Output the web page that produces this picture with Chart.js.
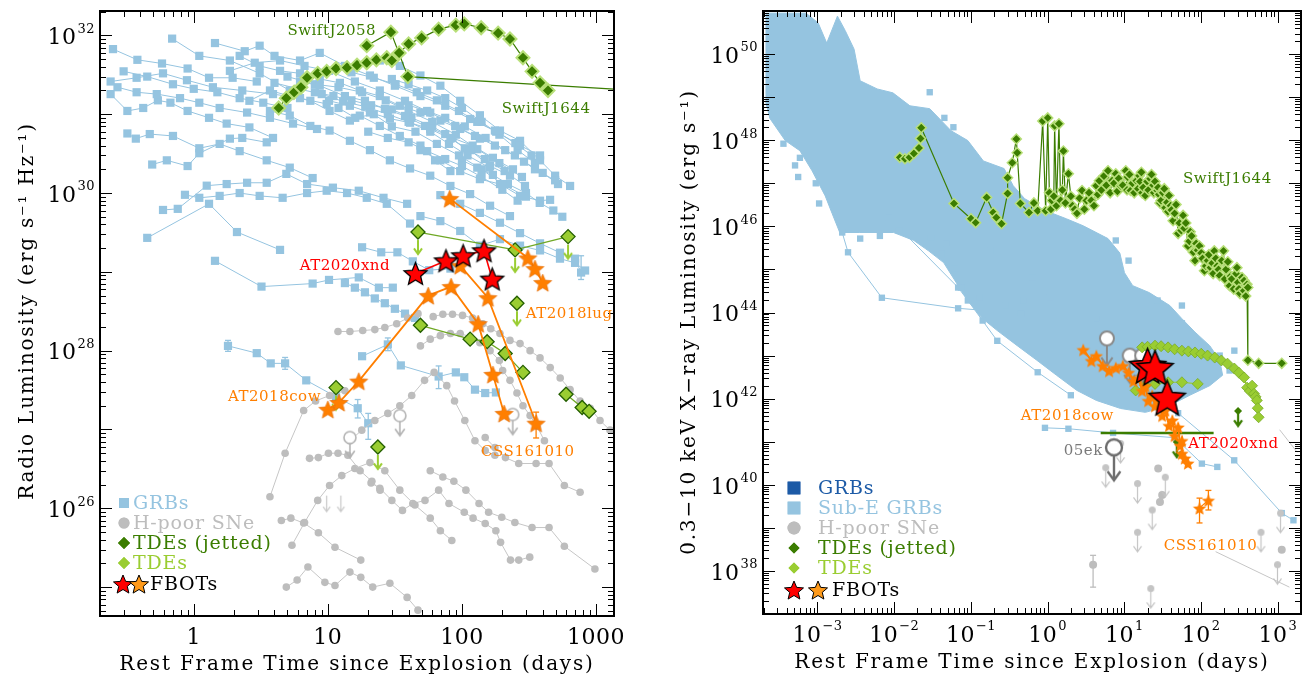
<!DOCTYPE html>
<html>
<head>
<meta charset="utf-8">
<title>FBOT radio and X-ray luminosity</title>
<script src="https://cdn.jsdelivr.net/npm/chart.js@4.4.1/dist/chart.umd.min.js"></script>
<style>
  body { margin: 0; background: #fff; }
  #wrap { position: relative; width: 1312px; height: 681px; }
  #wrap canvas { position: absolute; top: 0; }
</style>
</head>
<body>
<div id="wrap">
  <canvas id="radio" width="656" height="681" style="left:0"></canvas>
  <canvas id="xray" width="656" height="681" style="left:656px"></canvas>
</div>
<script>
// ---------- radio panel: [days, erg/s/Hz] ----------
const swiftJ1644Radio = [[4.3,1.2e31],[4.9,1.6e31],[5.6,1.9e31],[6.3,2.2e31],[7.0,2.9e31],[8.4,3.3e31],[9.8,3.5e31],[11.5,3.8e31],[13.9,3.9e31],[16.5,4.2e31],[19.5,4.5e31],[23,4.9e31],[27.5,5.2e31],[30,4.8e31],[34,6e31],[40,7.8e31],[50,9.3e31],[67,1.2e32],[90,1.35e32],[104,1.4e32],[139,1.25e32],[186,1.07e32],[228,9e31],[285,5.2e31],[333,3.5e31],[382,2.5e31],[438,2e31]]
const swiftJ2058Radio = [[19.5,7.4e31],[29.5,1.1e32],[39.5,3e31],[2000,2e31]]
const at2020xndRadio = [[45,9.5e28],[76,1.38e29],[102,1.6e29],[146,1.85e29],[168,8.1e28]]
const at2018cowRadio = [[10,1.8e27],[12.1,2.2e27],[17,4.1e27],[56,5e28],[83,6.5e28],[132,2.2e28],[170,5e27],[206,1.6e27]]
const css161010Radio = [[97,1.2e29],[156,4.7e28],[357,1.2e27]]
const at2018lugRadio = [[81,8.5e29],[310,1.5e29],[350,1.1e29],[400,7.3e28]]
const tdeRadioLimitLine = [[47,3.2e29],[249,1.9e29],[618,2.8e29]]
const tdeRadioB = [[49,2.1e28],[115,1.4e28],[154,1.3e28],[210,9.2e27],[285,5.3e27]]
const tdeRadioC = [[597,2.8e27],[787,1.9e27],[887,1.7e27]]
const tdeRadioLimits = [[257,4e28],[11.5,3.4e27],[23.6,6e26]]
const snRadioOpenLimits = [[34.4,1.5e27],[14.6,7.9e26],[239,1.55e27]]
const snRadioArrows = [[9.8,1.45e26],[12.5,1.45e26]]
const radioErrors = [[357,7.8e26,1.66e27,'#ff7f00'],[1.8,9.8e27,1.35e28,'#95c4e0'],[4.8,5.8e27,8.2e27,'#95c4e0'],[16.7,1.4e27,2.4e27,'#95c4e0'],[20,7.5e26,1.6e27,'#95c4e0'],[28,1e28,1.45e28,'#95c4e0'],[67,3.3e27,6.4e27,'#95c4e0'],[773,8e28,1.6e29,'#95c4e0']]

const grbRadioCurves = [
  [[0.25,6.7e31],[0.38,4.9e31],[0.58,4.4e31],[0.9,3.8e31],[1.3,2.9e31],[1.95,2.9e31],[2.95,2.6e31]],
  [[0.24,2.6e31],[0.375,2.9e31],[0.59,3.3e31],[0.89,2.7e31],[1.39,2.2e31],[2.3,2e31],[3.9,1.8e31],[6.2,1.6e31],[9.8,1.35e31]],
  [[0.27,2.2e31],[0.375,1.9e31],[0.53,1.8e31],[0.79,1.6e31],[1.1,1.4e31],[1.56,1.2e31],[2.5,1.05e31],[3.7,9e30],[5.5,7.6e30],[8.3,6.5e30]],
  [[0.24,1.8e31],[0.32,1.1e31],[0.42,1.2e31],[0.54,1.5e31],[0.67,1.4e31],[0.9,1.1e31],[1.3,9e30],[1.76,7.6e30],[2.6,6.8e30],[3.9,5e30]],
  [[0.32,5.7e30],[0.37,4.9e30],[0.47,5.6e30],[0.7,5.3e30],[1.1,3.7e30],[1.56,4.2e30],[2.2,3.4e30],[3.5,2.6e30],[5.2,2.1e30],[7.7,1.55e30]],
  [[0.49,2.3e30],[0.63,2.6e30],[0.9,2.2e30],[1.1,3.2e30],[1.86,4.9e30],[2.3,5e30],[3.5,4.4e30]],
  [[0.45,2.7e29],[1.3,7.3e29],[2.1,3.2e29],[4.4,1.9e29]],
  [[0.59,6.1e29],[0.76,6.3e29],[1.25,1.24e30],[1.76,1.3e30],[2.5,1.35e30],[3.5,1.35e30],[4.9,1.75e30],[7,1.3e30],[10.9,1.17e30],[17,1.07e30],[26,8.7e29],[39,7.3e29]],
  [[0.86,9.5e29],[1.1,8.7e29],[1.56,9.2e29],[2.2,1e30],[3.1,9.2e29],[4.6,8.7e29],[7,1e30],[9.8,1.07e30],[13.9,1e30],[19.5,8.7e29],[27.5,7.3e29],[41,4.1e29]],
  [[1.44,1.38e29],[3.2,6.5e28],[7.7,7.1e28],[10.2,7.9e28],[17,8.5e28],[24,6.3e28],[30.5,6.3e28]],
  [[13.4,7.2e28],[15.9,6.3e28],[18.9,5.5e28],[22.4,4.6e28],[26.6,4e28],[31.6,3.4e28],[37.6,2.95e28],[44.6,2.6e28]],
  [[1.8,1.15e28],[2.95,9.3e27],[3.75,6.9e27],[4.8,6.9e27],[6.9,4.2e27],[11.5,2.6e27],[16.7,1.86e27],[20,1.2e27]],
  [[18,8.5e27],[28,1.2e28],[35,6.5e27],[67,4.7e27],[90,5.3e27],[104,4.6e27],[125,3.2e27],[149,2.9e27],[179,2.95e27]],
  [[69,9.4e29],[97,7.3e29],[136,5.6e29],[192,4.2e29],[271,3.1e29],[382,2.3e29],[538,1.75e29],[697,1.47e29],[773,9.8e28]],
  [[49,3.5e30],[69,2.6e30],[97,1.9e30],[136,1.5e30],[192,1.3e30],[271,9.2e29],[382,8e29],[454,8.2e29]],
  [[10.2,1.48e31],[14.6,1.28e31],[20.6,1.05e31],[29,8.8e30],[41,7.8e30],[58,6.5e30],[82,4.9e30],[115,3.5e30],[162,2.2e30],[228,1.66e30]],
  [[6.2,2.6e31],[8.7,2.3e31],[13.4,1.7e31],[18.9,1.48e31],[26.6,1.17e31],[37.6,9.5e30],[53,7.1e30],[75,5.6e30],[105,3.7e30],[148,2.7e30],[208,1.9e30],[295,1.23e30]],
  [[2.2,5.5e31],[3.1,4.1e31],[4.4,3.55e31],[6.2,3.3e31],[8.7,2.8e31],[12.3,2.5e31],[17.3,2e31],[24.4,1.7e31],[34.4,1.28e31],[49,1.05e31],[69,8.3e30],[97,6.5e30],[136,4.9e30]],
  [[1.44,8e31],[2.4,6.3e31],[3.1,7.4e31],[4,5.5e31],[6.2,4.8e31],[8.7,6e31],[13.4,4.1e31],[20.6,3.1e31],[31.6,2.3e31],[49,1.7e31],[75,1.28e31],[115,8.7e30],[176,6.2e30],[271,4e30],[382,3e30]],
  [[1.86,3.55e31],[2.85,4.5e31],[4.4,4.8e31],[6.7,4.1e31],[10.2,3.55e31],[15.9,2.6e31],[24.4,2e31],[37.6,1.48e31],[58,1.05e31],[89,7.1e30],[125,5.3e30],[176,4e30],[248,3e30],[350,2e30],[495,1.45e30]],
  [[3.7,1.1e31],[5.2,9.6e30],[7.4,7.1e30],[10.3,6.2e30],[14.6,4.6e30],[20.6,3.5e30],[29,2.6e30],[41,2.05e30],[58,1.66e30],[82,1.23e30],[115,9.7e29],[162,6.9e29],[228,5.1e29]],
  [[24.4,4.8e31],[34.4,4.1e31],[49,3.1e31],[69,2.3e31],[97,1.48e31],[136,9.7e30],[192,6.2e30],[271,4.6e30],[382,2.6e30],[495,1.66e30],[640,1.23e30]],
  [[2.6,1.48e31],[3.7,2e31],[5.2,1.7e31],[7.4,1.48e31],[10.3,1.1e31],[14.6,8.3e30],[17.3,9.6e30],[24.4,7.1e30],[34.4,5.3e30],[49,4e30],[63,2.6e30],[82,1.9e30]],
  [[0.69,9.1e31],[1.1,5.5e31],[1.86,4.8e31],[3.1,3.3e31],[5.2,2e31]],
  [[49,5.1e29],[69,4.4e29],[97,3.3e29],[136,2.15e29],[192,2.6e29],[271,2.15e29],[382,1.87e29],[538,1.47e29],[697,1.3e29],[828,1.04e29]],
  [[18,2.05e29],[25,1.77e29],[33,1.77e29],[43,1.36e29],[57,1.05e29],[82,1.1e29]],
  [[5,3e31],[8,2.4e31],[12,2.2e31],[18,1.9e31],[27,1.5e31],[40,1.1e31],[60,8e30],[90,5.5e30],[130,3.6e30],[190,2.4e30],[280,1.6e30]],
  [[12,1.2e31],[16,9e30],[22,1e31],[30,7e30],[45,6e30],[65,4.2e30],[95,3e30],[140,2e30],[200,1.3e30],[300,9e29]],
  [[20,6e30],[28,5e30],[40,4.4e30],[55,3.4e30],[75,2.7e30],[100,2.2e30],[140,1.6e30],[200,1.1e30],[260,8e29]],
  [[8,1.9e31],[11,1.7e31],[15,1.5e31],[21,1.3e31],[30,1.15e31],[42,9e30],[60,7e30],[85,5e30],[120,4e30],[170,2.8e30],[240,2e30]],
  [[30,2.8e31],[40,2.4e31],[55,2e31],[75,1.6e31],[100,1.2e31],[140,8e30],[190,5.5e30],[260,3.5e30],[350,2.4e30]],
  [[4,2.5e31],[6,2.1e31],[9,1.8e31],[13,1.45e31],[19,1.25e31],[28,1e31],[40,8e30],[58,6e30],[80,4.2e30],[110,3e30],[160,2.1e30]],
  [[15,3.4e31],[22,2.9e31],[32,2.4e31],[46,1.9e31],[65,1.5e31],[95,1.1e31],[130,8e30],[180,6e30],[250,4.3e30],[330,3e30]],
  [[40,1.3e31],[55,1.1e31],[75,9e30],[105,7e30],[150,5e30],[210,3.5e30],[290,2.5e30],[400,1.8e30],[520,1.3e30]],
  [[0.3,3.5e31],[0.45,3e31],[0.7,2.4e31],[1.0,2.1e31],[1.5,1.9e31],[2.2,1.6e31],[3.3,1.4e31],[5,1.2e31]],
  [[100,2.6e30],[130,2.1e30],[170,1.7e30],[220,1.3e30],[300,1e30],[380,7.5e29],[480,6e29],[560,5e29]]
]

const snRadioCurves = [
  [[3.7,1.4e26],[4.8,5e26],[6.6,1.74e27],[8.1,2.3e27],[10.3,2.7e27],[13.4,3.1e27]],
  [[7.3,4.3e26],[8.5,4.4e26],[10.1,5e26],[11.9,5e26],[14.1,4.7e26],[17.4,3e26],[21.3,2.2e26],[24.5,1.7e26]],
  [[4.5,7e25],[5.3,7.5e25],[6.6,6.5e25],[8.5,4.9e25],[11.3,3.2e25],[17.6,2.2e25]],
  [[4.9,1e25],[5.9,1.23e25],[7.1,1.8e25],[9.5,1.15e25],[11.3,1.05e25],[14.6,1.55e25],[17.6,1.33e25],[21.6,1e25],[29,1.12e25],[39,7.4e24],[47,5.1e24]],
  [[5.4,3.4e25],[6.7,6.6e25],[8.4,1.26e26],[10.3,1.95e26],[12.7,2.6e26],[15.9,3.2e26],[20.6,3.8e26],[26.6,3e26],[34.4,1.7e26],[44.6,1.1e26],[58,7.5e25],[69,5.2e25],[84,3.9e25]],
  [[14.6,7.2e26],[17.9,9.8e26],[22.4,1.3e27],[28,1.6e27],[34.4,2e27],[42.2,2.7e27],[52.6,4.2e27],[62,5.3e27],[77,3.6e27],[88,2.3e27],[105,1.3e27],[125,7.2e26],[149,5.4e26],[176,4.7e26]],
  [[21,2.1e26],[24.4,1.8e26],[30,1.26e26],[36,9.4e25],[43,1.15e26],[53,1.26e26],[67,1.7e26],[80,1.15e26],[104,8.9e25],[121,7.5e25],[149,6.4e25],[179,5.2e25],[194,3.7e25],[230,2.2e25],[265,2.2e25],[320,2.4e25]],
  [[58,3e26],[72,2.5e26],[87,2.2e26],[107,1.7e26],[134,1.15e26],[158,8.9e25],[198,7.7e25],[248,6.6e25],[333,5.7e25],[446,5.7e25],[580,3.3e25],[980,1.7e25]],
  [[149,7.9e26],[176,5.9e26],[211,4.4e26],[265,3.7e26],[357,3.7e26],[446,3.7e26],[580,1.95e26],[760,1.6e26]],
  [[61,2.7e28],[72,2.9e28],[85,2.9e28],[101,2.8e28],[120,2.6e28],[143,2.2e28],[164,1.9e28],[192,1.65e28],[228,1.35e28],[271,1.23e28],[322,1e28],[382,8.1e27],[455,6.1e27],[540,4.5e27],[640,3.2e27],[760,2.3e27],[905,1.86e27],[1070,1.3e27],[1270,9.8e26]],
  [[49,1.15e28],[58,1.4e28],[69,1.55e28],[82,1.65e28],[97,1.65e28],[115,1.5e28],[136,1.26e28],[162,1e28],[190,7.5e27],[201,5.6e27],[228,4.2e27],[257,2.9e27],[285,2e27],[322,1.5e27],[362,1.1e27],[412,7.2e26]],
  [[11.9,1.75e28],[14.6,1.75e28],[18.2,1.8e28],[22.4,1.85e28],[26.6,1.97e28],[32.6,2.2e28],[39.4,2.6e28],[47,2.95e28]]
]

// ---------- X-ray panel: [days, erg/s] ----------
const subEGrbCloud = [[2.1e-4,8.9e50],[7.1e-4,8.9e50],[1.02e-3,5.3e50],[1.32e-3,1.8e50],[1.82e-3,7.6e50],[2.3e-3,3.5e50],[3.0e-3,1.3e50],[3.6e-3,2.4e49],[6e-3,1.55e49],[9.6e-3,1.26e49],[0.016,6.3e48],[0.029,5.4e48],[0.055,1.66e48],[0.091,9.8e47],[0.145,3.3e47],[0.27,2.2e47],[0.355,8.8e46],[0.5,4.4e46],[0.94,2.3e46],[1.75,1.5e46],[2.9,1.03e46],[6.1,5.2e45],[8.7,2.4e45],[10,8.4e44],[12.8,4.2e44],[21,2.9e44],[39,1.45e44],[56,7.2e43],[83,3.5e43],[129,1.7e43],[174,7.8e42],[190,3.5e42],[129,2e42],[71,1.2e42],[39,6.9e41],[18.7,4.8e41],[8.9,5.9e41],[4.3,9.1e41],[2.4,1.55e42],[1.3,3.5e42],[0.72,7.8e42],[0.4,1.7e43],[0.22,3.8e43],[0.142,7.2e43],[0.091,1.9e44],[0.068,4.2e44],[0.044,1.44e45],[0.028,2.7e45],[0.018,4.7e45],[9.8e-3,7.2e45],[3.5e-3,7.2e45],[1.95e-3,7.2e45],[1.55e-3,2e46],[1.26e-3,5.1e46],[8.5e-4,1.95e47],[5.9e-4,5.7e47],[3.8e-4,9.8e47],[2.4e-4,3.2e48],[2.1e-4,8.1e48]]
const subEGrbScatter = [[0.029,1.3e49],[0.045,3.3e48],[0.059,2e48],[5.9e-4,3.9e47],[5.1e-4,2.6e47],[3.6e-4,8.3e47],[5.6e-4,1.4e47],[9.5e-4,1e47],[1.05e-3,3.4e46],[3.6e-3,5.2e45],[6.5e-3,6e45],[0.0115,7.9e45],[0.03,5.5e45],[0.041,2.3e45],[0.06,1.05e45],[0.18,2.7e45],[0.28,1.45e44],[0.13,2.2e44],[0.48,1.9e44],[0.64,6.5e44],[1.06,2.2e44],[56,1.45e44],[7.7,4.7e45],[11.3,1.6e45],[27,1.9e44],[174,1e43],[234,4.5e42],[270,1.3e43]]
const grbXrayCurves = [
  [[2.1e-3,7.2e45],[2.5e-3,2.5e45],[6.9e-3,2.2e44],[0.068,1.25e44],[0.45,9.6e43],[4.3,7.3e43],[56,5.6e43]],
  [[8.5e-3,1.6e46],[0.068,3.8e44],[0.091,1.9e44],[0.22,2.2e43],[0.74,4.1e42],[2.0,1.2e42]],
  [[0.048,4e45],[0.074,3.8e44],[0.142,6.5e43]],
  [[0.92,2.1e41],[1.86,2e41],[7.1,1.6e41],[45,1.24e41],[102,3.1e40],[162,2.6e40]],
  [[50,4.6e41],[269,3.7e40],[1120,2.2e39],[1590,1.5e39]]
]
const swiftJ1644Xray = [[0.0118,4e47],[0.0138,3.7e47],[0.0158,4e47],[0.018,4.9e47],[0.021,6.6e47],[0.022,1.1e48],[0.0225,1.95e48],[0.06,3.4e46],[0.1,1.5e46],[0.115,1.22e46],[0.16,4.7e46],[0.195,2.1e46],[0.214,1.6e46],[0.25,1.15e46],[0.3,5.8e46],[0.3,1.35e47],[0.345,3e47],[0.39,1.07e48],[0.4,5.1e47],[0.44,3.4e46],[0.57,2.1e46],[0.66,3.5e46],[0.74,2.3e46],[0.86,2.8e48],[0.94,2.3e46],
  [1.0,3.3e48],[1.05,6e46],[1.1,2.5e46],[1.13,4e46],[1.2,5e46],[1.23,2.15e48],[1.3,3e46],[1.4,2.4e48],[1.47,4e46],[1.55,7e46],[1.6,5.6e47],[1.7,3.5e46],[1.86,1.67e47],[2.0,5e46],[2.1,3e46],[2.25,2.5e46],[2.4,2e46],[2.6,4.5e46],[2.8,6.8e46],[3.0,2.5e46],[3.2,4e46],[3.45,6e46],[3.7,4e46],[4.0,3e46],[4.3,8.8e46],[4.5,5.5e46],[4.7,1.15e47],[5.0,7e46],[5.4,1.48e47],[5.8,9e46],[6.1,1.95e47],[6.5,6e46],[6.9,1.15e47],[7.3,1e47],[7.7,1.67e47],[8.1,6.5e46],[8.4,1.3e47],[8.9,8.8e46],[9.5,9e46],
  [10.4,1.95e47],[10.8,7e46],[11,1.4e47],[11.6,1.6e47],[12,6.8e46],[12.7,1e47],[13.4,6e46],[14.3,1.15e47],[15,7.5e46],[15.6,1.5e47],[16,1.1e47],[16.6,1.8e47],[17,6e46],[17.6,8e46],[18.7,5.2e46],[19.8,1.1e47],[20.5,7e46],[21.7,1.27e47],[22.5,1.6e47],[23.7,9e46],[24.2,6e46],[25,1.1e47],[26.8,6.8e46],[27.5,8e46],[28.2,5.5e46],[29,3.5e46],[30,4e46],[31.6,6e46],[33,7.5e46],[34,2.7e46],[35.8,3.6e46],[36.8,2.2e46],[38,5.2e46],[40,3e46],[41,2.4e46],[43,1.35e46],[45,2e46],[47,3.2e46],[50,6.8e45],[52,1.2e46],[55,8e45],[58,1.8e46],[60,9e45],[63,1.2e46],[67,3.5e45],[70,4.5e45],[72,7.5e45],[75,6e45],[79,2.5e45],[83,1.6e45],[86,4e45],[90,2.8e45],[95,3.5e45],
  [100,2.4e45],[104,1.8e45],[110,9.3e44],[115,1.2e45],[121,1.6e45],[126,2.2e45],[132,1.1e45],[139,1.4e45],[143,8e44],[148,2.7e45],[155,1.8e45],[162,1.2e45],[168,1e45],[174,7.2e44],[185,1.6e45],[195,2.7e45],[203,6e44],[211,1e45],[222,1.5e45],[234,4.2e44],[242,7e44],[250,6e44],[265,3.5e44],[284,8e44],[292,1.1e45],[300,5e44],[310,3.5e44],[320,2.75e44],[340,6.5e44],[360,3.2e44],[362,5.5e44],[380,2.4e44],[395,4.5e44],[405,3.8e44],[405,7.8e42],[560,6.6e42],[1120,6.6e42]]
const tdeXrayA = [[17,1.55e43],[20,1.6e43],[25,1.7e43],[30,1.65e43],[37,1.55e43],[45,1.4e43],[56,1.3e43],[68,1.25e43],[83,1.18e43],[100,1.1e43],[121,1e43],[150,9e42],[183,7.7e42],[220,6.5e42],[270,5e42],[310,4e42],[362,3.1e42],[396,1.8e42],[430,1.5e42],[460,2e42],[488,1.3e42],[510,1.1e42],[530,9.1e41],[545,6e41],[560,3.7e41]]
const tdeXrayB = [[14,1.55e42],[18.7,2e42],[25,2.2e42],[37,2.4e42],[56,2.4e42],[90,2.2e42]]
const jettedXrayFlat = [[4.9,1.6e41],[145,1.6e41]]
const jettedXrayLimits = [[48,9.8e40],[302,5.2e41]]
const at2018cowXray = [[2.9,1.38e43],[3.7,7.7e42],[4.3,1e43],[5.2,5.9e42],[6.3,4.5e42],[7.7,5.3e42],[9.5,5.9e42],[11.3,4.1e42],[13.1,2.6e42],[15.2,3e42],[17,1.55e42],[18.7,2e42],[20.4,9.1e41],[23,1.2e42],[25,6.9e41],[27.5,9.1e41],[31,4.1e41],[34,5.4e41],[38,2.4e41],[42,3.2e41],[45,1.4e41],[50,2.2e41],[53,8.3e40],[56,1.07e41],[56,5.4e40],[61,4.2e40],[67,3.2e40]]
const css161010Xray = [[95,2.9e39],[124,4.4e39]]
const at2020xndXray = [[20,5.6e42],[25,5e42],[36,1.02e42]]
const snXrayOpenLimits = [[5.9,2.5e43],[11.7,1e43],[17,1e43]]
const sn05ekXray = [[7.3,7.4e40]]
const snXrayLimits = [[5.7,2.5e40],[8.9,9.1e40],[14.8,1.07e40],[34,1.5e40],[23,2.6e39],[14.8,7.9e38],[600,7.9e38],[1080,2.2e39],[22,3.9e37],[985,1.4e38]]
const snXrayDots = [[27.5,2.4e40],[31,5.8e39],[29,4e39],[1120,3.1e38],[3.9,1.4e38]]
const snXrayLines = [[[1050,1.9e41],[1780,5.7e40]],[[154,2.8e38],[1410,4.2e37]]]
const xrayErrors = [[95,1.3e39,4.9e39,'#ff7f00'],[124,2.6e39,7.4e39,'#ff7f00'],[3.9,4.2e37,2.3e38,'#bdbdbd']]

// ---------- colours ----------
const BLUE = '#95c4e0', DKBLUE = '#1c5aa6', GREY = '#bdbdbd', DKGREEN = '#3b7d00',
  LTGREEN = '#9acd32', ORANGE = '#ff7f00', RED = '#ff0000', HALO = '#b9e07a'
const SERIF = '"DejaVu Serif", "Liberation Serif", serif'

// ---------- marker images ----------
function canvasOf(w, h) {
  const c = document.createElement('canvas')
  c.width = w; c.height = h
  return c
}
function starImg(r, fill, stroke, lw) {
  const s = Math.ceil(2 * r + 2 * lw + 2), c = canvasOf(s, s), g = c.getContext('2d')
  g.beginPath()
  for (let i = 0; i < 10; i++) {
    const rr = i % 2 ? r * 0.45 : r, a = -Math.PI / 2 + i * Math.PI / 5
    g.lineTo(s / 2 + rr * Math.cos(a), s / 2 + 1 + rr * Math.sin(a))
  }
  g.closePath()
  g.fillStyle = fill
  g.fill()
  if (stroke) { g.lineWidth = lw; g.strokeStyle = stroke; g.stroke() }
  return c
}
function arrowImg(gap, len, color, lw, head) {
  const w = 2 * head + 4, h = 2 * (gap + len) + 4, c = canvasOf(w, h), g = c.getContext('2d')
  const cx = w / 2, cy = h / 2, tip = cy + gap + len
  g.strokeStyle = color; g.lineWidth = lw
  g.beginPath()
  g.moveTo(cx, cy + gap); g.lineTo(cx, tip)
  g.moveTo(cx - head, tip - head * 1.4); g.lineTo(cx, tip); g.lineTo(cx + head, tip - head * 1.4)
  g.stroke()
  return c
}
function openLimitImg(r, len, color, lw) {
  const head = r * 0.8, w = 2 * r + 6, h = 2 * (r + len) + 6, c = canvasOf(w, h), g = c.getContext('2d')
  const cx = w / 2, cy = h / 2, tip = cy + r + len
  g.strokeStyle = color; g.lineWidth = lw
  g.beginPath()
  g.moveTo(cx, cy + r); g.lineTo(cx, tip)
  g.moveTo(cx - head, tip - head * 1.4); g.lineTo(cx, tip); g.lineTo(cx + head, tip - head * 1.4)
  g.stroke()
  g.beginPath(); g.arc(cx, cy, r, 0, Math.PI * 2)
  g.fillStyle = '#fff'; g.fill(); g.stroke()
  return c
}
function dotLimitImg(r, len, color, lw) {
  const head = 4, w = 2 * r + 8, h = 2 * (r + len) + 6, c = canvasOf(w, h), g = c.getContext('2d')
  const cx = w / 2, cy = h / 2, tip = cy + r + len
  g.strokeStyle = color; g.lineWidth = lw
  g.beginPath()
  g.moveTo(cx, cy); g.lineTo(cx, tip)
  g.moveTo(cx - head, tip - head * 1.4); g.lineTo(cx, tip); g.lineTo(cx + head, tip - head * 1.4)
  g.stroke()
  g.beginPath(); g.arc(cx, cy, r, 0, Math.PI * 2)
  g.fillStyle = color; g.fill()
  return c
}

const redStarL = starImg(12, RED, '#000', 1.3)
const orangeStarL = starImg(9.5, ORANGE, '#e06a00', 0.6)
const redStarR = starImg(19, RED, '#000', 1.5)
const orangeStarR = starImg(7, ORANGE, null, 0)
const legRed = starImg(10, RED, '#000', 1)
const legOrange = starImg(10, '#ff9a1a', '#000', 1)
const tdeArrow = arrowImg(8, 14, LTGREEN, 2, 4)
const greyOpenL = openLimitImg(6, 14, '#b3b3b3', 1.6)
const greyArrowL = arrowImg(0, 16, '#c8c8c8', 1.2, 3.5)
const greyOpenR = openLimitImg(7, 20, '#8a8a8a', 2)
const ek05 = openLimitImg(8, 25, '#6e6e6e', 2.4)
const greyDotLimit = dotLimitImg(3.5, 16, '#c4c4c4', 1.2)
const jetArrow = arrowImg(2, 13, DKGREEN, 2.2, 4)

// ---------- dataset helpers ----------
const pts = a => a.map(([x, y]) => ({ x, y }))
function curve(data, color, extra) {
  return Object.assign({
    data: pts(data), showLine: true, borderColor: color, backgroundColor: color,
    borderWidth: 1, pointRadius: 4, pointStyle: 'circle', pointBorderWidth: 0
  }, extra)
}
function marks(data, img, order) {
  return { data: pts(data), showLine: false, pointStyle: img, pointRadius: 10, order }
}
function errBar([x, lo, hi, color], order) {
  return {
    data: [{ x, y: lo }, { x, y: hi }], showLine: true, borderColor: color, borderWidth: 1.3,
    pointStyle: 'line', pointRadius: 3, pointBorderColor: color, pointBorderWidth: 1.3, order
  }
}

// ---------- axis frame, ticks, titles, legend, labels ----------
function logTicks(min, max) {
  const out = []
  for (let k = Math.floor(Math.log10(min)); k <= Math.ceil(Math.log10(max)); k++) {
    for (let m = 1; m <= 9; m++) {
      const v = m * Math.pow(10, k)
      if (v >= min && v <= max) out.push([v, m === 1])
    }
  }
  return out
}
function drawPow(ctx, exp, x, y, align, big, small) {
  const sup = String(exp).replace('-', '\u2212')
  ctx.font = big
  const wb = ctx.measureText('10').width
  ctx.font = small
  const ws = ctx.measureText(sup).width
  const x0 = align === 'right' ? x - wb - ws - 1 : x - (wb + ws + 1) / 2
  ctx.textAlign = 'left'
  ctx.textBaseline = 'middle'
  ctx.font = big
  ctx.fillText('10', x0, y)
  ctx.font = small
  ctx.fillText(sup, x0 + wb + 1, y - 9)
}

const framePlugin = {
  id: 'frame',
  afterDraw(chart, args, o) {
    const { ctx, chartArea: a } = chart
    const xs = chart.scales.x, ys = chart.scales.y
    ctx.save()
    ctx.strokeStyle = '#000'
    ctx.lineWidth = 1
    ctx.beginPath()
    logTicks(xs.min, xs.max).forEach(([v, major]) => {
      const p = Math.round(xs.getPixelForValue(v)) + 0.5, len = major ? 12 : 6
      ctx.moveTo(p, a.bottom); ctx.lineTo(p, a.bottom - len)
      ctx.moveTo(p, a.top); ctx.lineTo(p, a.top + len)
    })
    logTicks(ys.min, ys.max).forEach(([v, major]) => {
      const p = Math.round(ys.getPixelForValue(v)) + 0.5, len = major ? 12 : 6
      ctx.moveTo(a.left, p); ctx.lineTo(a.left + len, p)
      ctx.moveTo(a.right, p); ctx.lineTo(a.right - len, p)
    })
    ctx.stroke()
    ctx.lineWidth = 2
    ctx.strokeRect(a.left, a.top, a.right - a.left, a.bottom - a.top)

    const big = '22px ' + SERIF, small = '13px ' + SERIF
    ctx.fillStyle = '#000'
    ctx.letterSpacing = '0.5px'
    o.yExps.forEach(e => drawPow(ctx, e, a.left - 5, ys.getPixelForValue(Math.pow(10, e)) + 3, 'right', big, small))
    if (o.xPlain) {
      ctx.font = big
      ctx.textAlign = 'center'
      ctx.textBaseline = 'middle'
      o.xPlain.forEach(v => ctx.fillText(String(v), xs.getPixelForValue(v), a.bottom + 22))
    } else {
      o.xExps.forEach(e => drawPow(ctx, e, xs.getPixelForValue(Math.pow(10, e)), a.bottom + 22, 'center', big, small))
    }
    ctx.font = '20px ' + SERIF
    ctx.letterSpacing = '1.8px'
    ctx.textAlign = 'center'
    ctx.textBaseline = 'middle'
    ctx.fillText(o.xTitle, (a.left + a.right) / 2, a.bottom + 49)
    ctx.save()
    ctx.translate(o.yTitleX, o.yTitleY)
    ctx.rotate(-Math.PI / 2)
    ctx.fillText(o.yTitle, 0, 0)
    ctx.restore()

    // in-plot labels
    ctx.font = '15px ' + SERIF
    ctx.letterSpacing = '0.5px'
    o.labels.forEach(l => {
      ctx.fillStyle = l.color
      ctx.fillText(l.text, xs.getPixelForValue(l.x), ys.getPixelForValue(l.y))
    })

    // legend
    ctx.textAlign = 'left'
    ctx.font = '19px ' + SERIF
    ctx.letterSpacing = '0.8px'
    o.legend.forEach(row => {
      row.marks.forEach(m => {
        ctx.fillStyle = m.color || '#000'
        ctx.strokeStyle = m.border || m.color || '#000'
        Chart.helpers.drawPoint(ctx, { pointStyle: m.style, radius: m.r, rotation: 0, borderWidth: m.bw || 0 }, m.x, row.y)
        if (!(m.style instanceof HTMLCanvasElement)) ctx.fill()
      })
      ctx.fillStyle = row.color
      ctx.fillText(row.text, row.tx, row.y + 1)
    })
    ctx.restore()
  }
}
Chart.register(framePlugin)

function logAxis(min, max, size, isX) {
  return {
    type: 'logarithmic', min, max,
    ticks: { display: false }, grid: { display: false }, border: { display: false },
    afterFit: s => { if (isX) s.height = size; else s.width = size }
  }
}

// ---------- radio chart ----------
const radioSets = []
radioSets.push(curve(swiftJ1644Radio, DKGREEN, { pointStyle: 'rectRot', pointRadius: 6.5, pointBorderWidth: 2, pointBorderColor: HALO, borderWidth: 1.2, order: 40 }))
radioSets.push(curve(swiftJ2058Radio, DKGREEN, { pointStyle: 'rectRot', pointRadius: 6.5, pointBorderWidth: 2, pointBorderColor: HALO, borderWidth: 1.2, order: 40 }))
grbRadioCurves.forEach(c => radioSets.push(curve(c, BLUE, { pointStyle: 'rect', pointRadius: 5.8, order: 60 })))
snRadioCurves.forEach(c => radioSets.push(curve(c, GREY, { pointRadius: 3.8, borderColor: '#c6c6c6', order: 55 })))
radioSets.push(marks(snRadioOpenLimits, greyOpenL, 54))
radioSets.push(marks(snRadioArrows, greyArrowL, 54))
const tdeStyle = { pointStyle: 'rectRot', pointRadius: 7, backgroundColor: LTGREEN, pointBorderColor: '#245f00', pointBorderWidth: 1.3, borderColor: '#6fa824', borderWidth: 1.3, order: 30 }
radioSets.push(marks(tdeRadioLimitLine, tdeArrow, 31))
radioSets.push(marks(tdeRadioLimits, tdeArrow, 31))
radioSets.push(curve(tdeRadioLimitLine, LTGREEN, tdeStyle))
radioSets.push(curve(tdeRadioB, LTGREEN, tdeStyle))
radioSets.push(curve(tdeRadioC, LTGREEN, tdeStyle))
radioSets.push(curve(tdeRadioLimits, LTGREEN, Object.assign({}, tdeStyle, { showLine: false })))
radioSets.push(curve(at2018cowRadio, ORANGE, { pointStyle: orangeStarL, borderWidth: 1.8, order: 20 }))
radioSets.push(curve(css161010Radio, ORANGE, { pointStyle: orangeStarL, borderWidth: 1.8, order: 20 }))
radioSets.push(curve(at2018lugRadio, ORANGE, { pointStyle: orangeStarL, borderWidth: 1.8, order: 20 }))
radioSets.push(curve(at2020xndRadio, RED, { pointStyle: redStarL, borderWidth: 1.6, order: 10 }))
radioErrors.forEach(e => radioSets.push(errBar(e, e[3] === ORANGE ? 21 : 59)))

new Chart(document.getElementById('radio'), {
  type: 'scatter',
  data: { datasets: radioSets },
  options: {
    responsive: false, animation: false, events: [],
    layout: { padding: { left: 0, top: 10, right: 42, bottom: 0 } },
    scales: { x: logAxis(0.2, 1360, 65, true), y: logAxis(4.3e24, 2.04e32, 100, false) },
    plugins: {
      legend: { display: false }, tooltip: { enabled: false },
      frame: {
        yExps: [26, 28, 30, 32], xPlain: [1, 10, 100, 1000],
        xTitle: 'Rest Frame Time since Explosion (days)',
        yTitle: 'Radio Luminosity (erg s\u207B\u00B9 Hz\u207B\u00B9)', yTitleX: 28, yTitleY: 311,
        labels: [
          { text: 'SwiftJ2058', x: 10.7, y: 1.14e32, color: DKGREEN },
          { text: 'SwiftJ1644', x: 424, y: 1.17e31, color: DKGREEN },
          { text: 'AT2020xnd', x: 13.4, y: 1.17e29, color: RED },
          { text: 'AT2018lug', x: 630, y: 2.95e28, color: ORANGE },
          { text: 'AT2018cow', x: 4.0, y: 2.6e27, color: ORANGE },
          { text: 'CSS161010', x: 310, y: 5.1e26, color: ORANGE }
        ],
        legend: [
          { y: 503, tx: 133, text: 'GRBs', color: BLUE, marks: [{ x: 124, style: 'rect', r: 7, color: BLUE }] },
          { y: 523, tx: 133, text: 'H-poor SNe', color: GREY, marks: [{ x: 124, style: 'circle', r: 5.5, color: GREY }] },
          { y: 543, tx: 133, text: 'TDEs (jetted)', color: DKGREEN, marks: [{ x: 124, style: 'rectRot', r: 6, color: DKGREEN }] },
          { y: 563, tx: 133, text: 'TDEs', color: LTGREEN, marks: [{ x: 124, style: 'rectRot', r: 6, color: LTGREEN }] },
          { y: 584, tx: 150, text: 'FBOTs', color: '#000', marks: [{ x: 123, style: legRed, r: 10 }, { x: 139, style: legOrange, r: 10 }] }
        ]
      }
    }
  }
})

// ---------- X-ray chart ----------
const xraySets = []
xraySets.push({ data: pts(subEGrbCloud), showLine: true, fill: 'shape', backgroundColor: BLUE, borderColor: BLUE, borderWidth: 1, pointRadius: 0, order: 70 })
xraySets.push(curve(subEGrbScatter, BLUE, { showLine: false, pointStyle: 'rect', pointRadius: 4.5, order: 65 }))
grbXrayCurves.forEach(c => xraySets.push(curve(c, BLUE, { pointStyle: 'rect', pointRadius: 4.5, order: 60 })))
xraySets.push(curve(swiftJ1644Xray, DKGREEN, { pointStyle: 'rectRot', pointRadius: 5, pointBorderWidth: 1.5, pointBorderColor: HALO, borderWidth: 1.2, order: 40 }))
xraySets.push(curve(jettedXrayFlat, DKGREEN, { pointRadius: 0, borderWidth: 2.5, order: 40 }))
xraySets.push(marks(jettedXrayLimits, jetArrow, 41))
xraySets.push(curve(jettedXrayLimits, DKGREEN, { showLine: false, pointStyle: 'rectRot', pointRadius: 4, order: 40 }))
snXrayLines.forEach(c => xraySets.push(curve(c, GREY, { pointRadius: 0, borderColor: '#c6c6c6', order: 55 })))
xraySets.push(marks(snXrayLimits, greyDotLimit, 55))
xraySets.push(curve(snXrayDots, GREY, { showLine: false, pointRadius: 4, order: 55 }))
xraySets.push(marks(snXrayOpenLimits, greyOpenR, 54))
xraySets.push(marks(sn05ekXray, ek05, 54))
const tdeXStyle = { pointStyle: 'rectRot', pointRadius: 5.5, pointBorderColor: '#78ab2a', pointBorderWidth: 0.8, borderColor: LTGREEN, borderWidth: 1.2, order: 35 }
xraySets.push(curve(tdeXrayA, LTGREEN, tdeXStyle))
xraySets.push(curve(tdeXrayB, LTGREEN, tdeXStyle))
xraySets.push(curve(at2018cowXray, ORANGE, { pointStyle: orangeStarR, borderWidth: 2, order: 20 }))
xraySets.push(curve(css161010Xray, ORANGE, { pointStyle: orangeStarR, borderWidth: 1.2, order: 20 }))
xraySets.push(curve(at2020xndXray, RED, { showLine: false, pointStyle: redStarR, order: 10 }))
xrayErrors.forEach(e => xraySets.push(errBar(e, e[3] === ORANGE ? 21 : 56)))

new Chart(document.getElementById('xray'), {
  type: 'scatter',
  data: { datasets: xraySets },
  options: {
    responsive: false, animation: false, events: [],
    layout: { padding: { left: 0, top: 10, right: 4, bottom: 0 } },
    scales: { x: logAxis(1.95e-4, 1995, 67, true), y: logAxis(1e37, 1e51, 107, false) },
    plugins: {
      legend: { display: false }, tooltip: { enabled: false },
      frame: {
        yExps: [38, 40, 42, 44, 46, 48, 50], xExps: [-3, -2, -1, 0, 1, 2, 3],
        xTitle: 'Rest Frame Time since Explosion (days)',
        yTitle: '0.3\u221210 keV X\u2212ray Luminosity (erg s\u207B\u00B9)', yTitleX: 34, yTitleY: 322,
        labels: [
          { text: 'SwiftJ1644', x: 219, y: 1.26e47, color: DKGREEN },
          { text: 'AT2018cow', x: 1.8, y: 3.9e41, color: ORANGE },
          { text: 'AT2020xnd', x: 262, y: 8.7e40, color: RED },
          { text: '05ek', x: 2.9, y: 6e40, color: '#7a7a7a' },
          { text: 'CSS161010', x: 132, y: 3.8e38, color: ORANGE }
        ],
        legend: [
          { y: 488, tx: 162, text: 'GRBs', color: DKBLUE, marks: [{ x: 138, style: 'rect', r: 9, color: DKBLUE }] },
          { y: 508, tx: 162, text: 'Sub-E GRBs', color: BLUE, marks: [{ x: 138, style: 'rect', r: 9, color: BLUE }] },
          { y: 528, tx: 162, text: 'H-poor SNe', color: GREY, marks: [{ x: 138, style: 'circle', r: 6.5, color: GREY }] },
          { y: 548, tx: 162, text: 'TDEs (jetted)', color: DKGREEN, marks: [{ x: 138, style: 'rectRot', r: 5.5, color: DKGREEN }] },
          { y: 568, tx: 162, text: 'TDEs', color: LTGREEN, marks: [{ x: 138, style: 'rectRot', r: 5.5, color: LTGREEN }] },
          { y: 590, tx: 176, text: 'FBOTs', color: '#000', marks: [{ x: 138, style: legRed, r: 10 }, { x: 162, style: legOrange, r: 10 }] }
        ]
      }
    }
  }
})
</script>
</body>
</html>
